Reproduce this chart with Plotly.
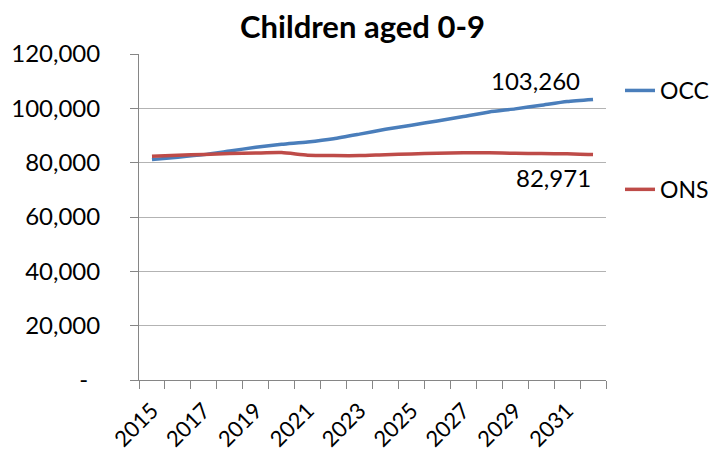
import plotly.graph_objects as go

# Projection years and population of children aged 0-9
years = list(range(2015, 2033))
occ = [81120, 81970, 82960, 84300, 85650, 86750, 87600, 88800, 90500,
       92300, 93800, 95350, 97000, 98650, 99800, 101150, 102500, 103260]
ons = [82340, 82700, 83050, 83330, 83550, 83700, 82750, 82600, 82600,
       82950, 83200, 83450, 83650, 83650, 83450, 83330, 83280, 82971]

y_ticks = [0, 20000, 40000, 60000, 80000, 100000, 120000]
y_tick_text = ["-\u2002", "20,000", "40,000", "60,000", "80,000", "100,000", "120,000"]
x_label_years = list(range(2015, 2033, 2))

FONT = "Lato"
AXIS_GREY = "#868686"
BLUE = "#4A7EBB"
RED = "#BE4B48"

fig = go.Figure()
fig.add_trace(go.Scatter(
    x=years, y=occ, name="OCC", mode="lines", legendgroup="occ",
    line=dict(color=BLUE, width=3.5, shape="spline", smoothing=0.6),
))
fig.add_trace(go.Scatter(
    x=years, y=ons, name="ONS", mode="lines", legendgroup="ons",
    line=dict(color=RED, width=3.5, shape="spline", smoothing=0.6),
))

# Value labels on the final year
fig.add_annotation(x=years[-1], y=occ[-1], text=f"{occ[-1]:,}", showarrow=False,
                   xanchor="right", yanchor="middle", xshift=-11, yshift=19,
                   font=dict(family=FONT, size=24, color="#000000"))
fig.add_annotation(x=years[-1], y=ons[-1], text=f"{ons[-1]:,}", showarrow=False,
                   xanchor="right", yanchor="middle", xshift=0, yshift=-23,
                   font=dict(family=FONT, size=24, color="#000000"))

fig.update_layout(
    width=713, height=455,
    margin=dict(l=139, r=107, t=54, b=75, autoexpand=False),
    paper_bgcolor="white", plot_bgcolor="white",
    font=dict(family=FONT, color="#000000"),
    title=dict(text="<b>Children aged 0-9</b>", x=362.5 / 713,
               xanchor="center", y=1 - 27 / 455, yanchor="middle",
               font=dict(family=FONT, size=31, color="#000000")),
    legend=dict(x=1.03, xanchor="left", y=0.954, yanchor="top",
                traceorder="grouped", tracegroupgap=66,
                font=dict(family=FONT, size=23, color="#000000"),
                bgcolor="rgba(0,0,0,0)"),
    xaxis=dict(
        range=[2014.5, 2032.5], tickmode="array", tickvals=x_label_years,
        ticktext=[str(v) for v in x_label_years], tickangle=-45,
        ticks="", showgrid=False, zeroline=False, automargin=False,
        showline=True, linecolor=AXIS_GREY, linewidth=1,
        tickfont=dict(family=FONT, size=22, color="#000000"),
        ticklabelstandoff=8,
        minor=dict(tickvals=[2014.5 + i for i in range(19)], ticks="outside",
                   ticklen=8, tickcolor=AXIS_GREY, tickwidth=1, showgrid=False),
    ),
    yaxis=dict(
        range=[0, 120000], tickmode="array", tickvals=y_ticks, ticktext=y_tick_text,
        ticks="outside", ticklen=8, tickcolor=AXIS_GREY, tickwidth=1,
        showgrid=True, gridcolor="#B3B3B3", gridwidth=1, zeroline=False,
        showline=True, linecolor=AXIS_GREY, linewidth=1, automargin=False,
        tickfont=dict(family=FONT, size=24, color="#000000"),
        ticklabelstandoff=25,
    ),
)

fig.write_html("out.html")
